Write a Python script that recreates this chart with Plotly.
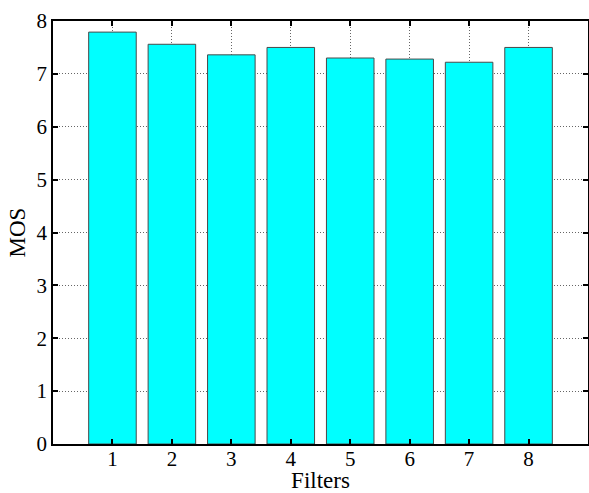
import plotly.graph_objects as go

filters = [1, 2, 3, 4, 5, 6, 7, 8]
mos = [7.79, 7.56, 7.36, 7.50, 7.30, 7.28, 7.22, 7.50]
y_ticks = [0, 1, 2, 3, 4, 5, 6, 7, 8]

font_family = "Liberation Serif, Times New Roman, serif"

fig = go.Figure(go.Bar(
    x=filters, y=mos, width=0.8,
    marker=dict(color="#00FFFF", line=dict(color="#4a4a4a", width=1)),
))

axis_common = dict(
    automargin=False,
    showline=True, linecolor="black", linewidth=1.5, mirror="allticks",
    ticks="inside", ticklen=5, tickwidth=1.5, tickcolor="black",
    showgrid=True, gridcolor="#666666", griddash="1px,2px", gridwidth=1,
    zeroline=False,
    tickfont=dict(family=font_family, size=21, color="black"),
    title_font=dict(family=font_family, size=23, color="black"),
)

fig.update_layout(
    width=589, height=493,
    margin=dict(l=53, r=1, t=21, b=49),
    paper_bgcolor="white", plot_bgcolor="white",
    showlegend=False,
    xaxis=dict(range=[0, 9], tickvals=filters, ticktext=[str(f) for f in filters],
               ticklabelstandoff=-5,
               title=dict(text="Filters", standoff=2), **axis_common),
    yaxis=dict(range=[0, 8], tickvals=y_ticks,
               title=dict(text="MOS", standoff=4), **axis_common),
)

fig.write_html(
    "out.html",
    config={"displayModeBar": False},
    post_script="document.body.style.margin='0';document.body.style.overflow='hidden';",
)
